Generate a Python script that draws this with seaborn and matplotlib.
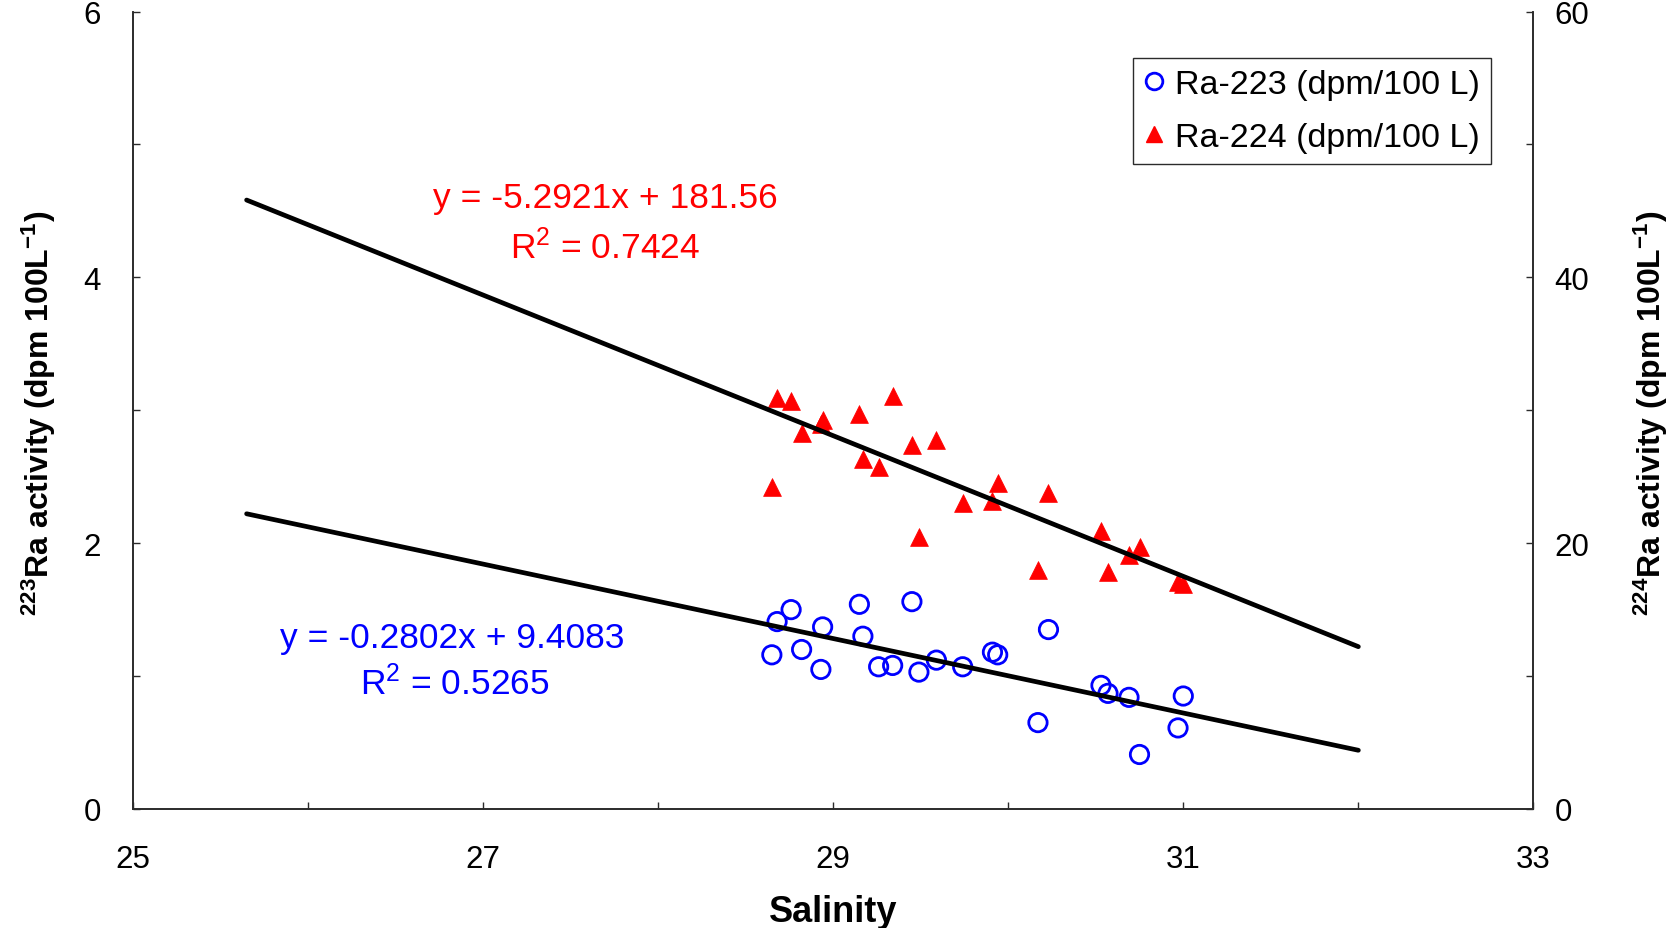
import numpy as np
import pandas as pd
import matplotlib
matplotlib.use("Agg")
import matplotlib.pyplot as plt
import seaborn as sns
from matplotlib import font_manager
from matplotlib.ticker import MultipleLocator
from matplotlib.lines import Line2D

# Salinity of each sample and the two radium activities (dpm/100 L)
salinity = [28.65, 28.68, 28.76, 28.82, 28.93, 28.94, 29.15, 29.17, 29.26, 29.34,
            29.45, 29.49, 29.59, 29.74, 29.91, 29.94, 30.17, 30.23, 30.53, 30.57,
            30.69, 30.75, 30.97, 31.00]
ra223 = [1.16, 1.41, 1.50, 1.20, 1.05, 1.37, 1.54, 1.30, 1.07, 1.08,
         1.56, 1.03, 1.12, 1.07, 1.18, 1.16, 0.65, 1.35, 0.93, 0.87,
         0.84, 0.41, 0.61, 0.85]
ra224 = [24.2, 30.9, 30.7, 28.3, 29.0, 29.3, 29.7, 26.3, 25.7, 31.1,
         27.4, 20.5, 27.8, 23.0, 23.2, 24.5, 18.0, 23.8, 20.9, 17.8,
         19.1, 19.7, 17.1, 16.9]

# Linear trend lines: slope, intercept, R^2
fit223 = (-0.2802, 9.4083, 0.5265)
fit224 = (-5.2921, 181.56, 0.7424)
# trend lines are extended 3 units backward and 1 unit forward
extend_back, extend_fwd = 3.0, 1.0

# Tick positions
xticks = [25, 27, 29, 31, 33]
yticks_left = [0, 2, 4, 6]
yticks_right = [0, 20, 40, 60]

sns.set_style("white")
plt.rcParams["font.family"] = ["Liberation Sans", "DejaVu Sans"]
plt.rcParams["mathtext.default"] = "regular"
plt.rcParams["text.color"] = "black"
plt.rcParams["axes.labelcolor"] = "black"
plt.rcParams["xtick.labelcolor"] = "black"
plt.rcParams["ytick.labelcolor"] = "black"

# Axis titles use a condensed bold face when one is available
installed = {f.name for f in font_manager.fontManager.ttflist}
if "Liberation Sans Narrow" in installed:
    title_family, title_size = ["Liberation Sans Narrow", "DejaVu Sans"], 28
else:
    title_family, title_size = ["Liberation Sans", "DejaVu Sans"], 23

df = pd.DataFrame({"salinity": salinity, "ra223": ra223, "ra224": ra224})

fig = plt.figure(figsize=(16.79, 9.29), dpi=100)
ax = fig.add_axes([0.0791, 0.1281, 0.8342, 0.8584])
ax2 = ax.twinx()

# Ra-223 (left axis): open blue circles
sns.scatterplot(data=df, x="salinity", y="ra223", ax=ax, marker="o", s=175,
                facecolors="none", edgecolor="blue", linewidth=2.0, zorder=3)
# Ra-224 (right axis): filled red triangles
sns.scatterplot(data=df, x="salinity", y="ra224", ax=ax2, marker="^", s=165,
                color="red", edgecolor="red", linewidth=0.5, zorder=3)

xs = np.array([min(salinity) - extend_back, max(salinity) + extend_fwd])
sns.lineplot(x=xs, y=fit223[0] * xs + fit223[1], ax=ax, color="black",
             linewidth=3.4, zorder=4)
sns.lineplot(x=xs, y=fit224[0] * xs + fit224[1], ax=ax2, color="black",
             linewidth=3.4, zorder=4)

ax.set_xlim(25, 33)
ax.set_ylim(0, 6)
ax2.set_ylim(0, 60)

ax.set_xticks(xticks)
ax.xaxis.set_minor_locator(MultipleLocator(1))
ax.set_yticks(yticks_left)
ax.yaxis.set_minor_locator(MultipleLocator(1))
ax2.set_yticks(yticks_right)
ax2.yaxis.set_minor_locator(MultipleLocator(10))

spine_col = "#2b2b2b"
for a in (ax, ax2):
    for s in a.spines.values():
        s.set_color(spine_col)
        s.set_linewidth(1.2)
ax.spines["top"].set_visible(False)
ax2.spines["top"].set_visible(False)

ax.tick_params(axis="both", which="both", direction="in", length=5, width=1,
               color=spine_col, labelsize=22.5, labelcolor="black",
               top=False, right=False)
ax.tick_params(axis="x", which="both", bottom=True, pad=25)
ax.tick_params(axis="y", which="both", left=True, pad=23)
ax2.tick_params(axis="y", which="both", direction="in", length=5, width=1,
                color=spine_col, labelsize=22.5, labelcolor="black",
                right=True, left=False, pad=15)
ax2.tick_params(axis="x", which="both", bottom=False, top=False)

ax.set_xlabel("Salinity", fontsize=26, fontweight="bold", color="black")
ax.xaxis.set_label_coords(0.5, -0.106)

ax.set_ylabel(r"$^{223}$Ra activity (dpm 100L$^{-1}$)", fontsize=title_size,
              fontweight="bold", family=title_family, va="center", color="black")
ax.yaxis.set_label_coords(-0.067, 0.497)
ax2.set_ylabel(r"$^{224}$Ra activity (dpm 100L$^{-1}$)", fontsize=title_size,
               fontweight="bold", family=title_family, va="center", rotation=90,
               color="black")
ax2.yaxis.set_label_coords(1.0835, 0.497)

# Trend line equations
eq_size = 25.5
ax2.text(0.3375, 0.7550, f"y = {fit224[0]:.4f}x + {fit224[1]:.2f}", color="red",
         fontsize=eq_size, ha="center", va="baseline", transform=ax.transAxes)
ax2.text(0.3375, 0.6916, f"R$^2$ = {fit224[2]:.4f}", color="red",
         fontsize=eq_size, ha="center", va="baseline", transform=ax.transAxes)
ax2.text(0.2282, 0.2030, f"y = {fit223[0]:.4f}x + {fit223[1]:.4f}", color="blue",
         fontsize=eq_size, ha="center", va="baseline", transform=ax.transAxes)
ax2.text(0.230, 0.1445, f"R$^2$ = {fit223[2]:.4f}", color="blue",
         fontsize=eq_size, ha="center", va="baseline", transform=ax.transAxes)

handles = [
    Line2D([], [], linestyle="none", marker="o", markersize=12,
           markerfacecolor="none", markeredgecolor="blue", markeredgewidth=2.0),
    Line2D([], [], linestyle="none", marker="^", markersize=12,
           markerfacecolor="red", markeredgecolor="red"),
]
leg = ax2.legend(handles, ["Ra-223 (dpm/100 L)", "Ra-224 (dpm/100 L)"],
                 loc="upper right", bbox_to_anchor=(0.9694, 0.9420),
                 fontsize=24.5, frameon=True, fancybox=False, framealpha=1,
                 edgecolor="#2b2b2b", handlelength=0.6, handletextpad=0.3,
                 borderpad=0.32, labelspacing=0.66, borderaxespad=0,
                 labelcolor="black")
leg.get_frame().set_linewidth(1.0)

fig.savefig("out.png", dpi=100)
